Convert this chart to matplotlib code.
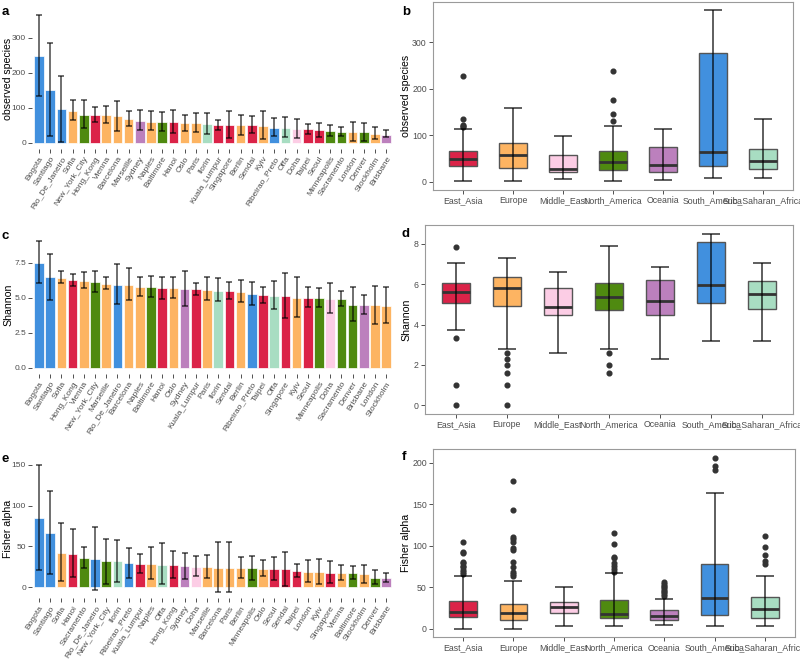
import matplotlib
matplotlib.use("Agg")
import matplotlib.pyplot as plt
import numpy as np

plt.rcParams['font.family'] = ['Liberation Sans', 'DejaVu Sans']

W, H = 800, 660

regions = ["East_Asia", "Europe", "Middle_East", "North_America",
           "Oceania", "South_America", "Sub_Saharan_Africa"]
region_colors = {
    "East_Asia": "#DB2348",
    "Europe": "#FDB462",
    "Middle_East": "#FCCDE5",
    "North_America": "#4F8A10",
    "Oceania": "#BC80BD",
    "South_America": "#4190DE",
    "Sub_Saharan_Africa": "#A8DDC2",
}
city_region = {
    "Bogota": "South_America", "Santiago": "South_America",
    "Rio_De_Janeiro": "South_America", "Ribeirao_Preto": "South_America",
    "Sofia": "Europe", "Vienna": "Europe", "Barcelona": "Europe",
    "Marseille": "Europe", "Naples": "Europe", "Oslo": "Europe",
    "Paris": "Europe", "Berlin": "Europe", "Kyiv": "Europe",
    "London": "Europe", "Stockholm": "Europe",
    "New_York_City": "North_America", "Baltimore": "North_America",
    "Minneapolis": "North_America", "Sacramento": "North_America",
    "Denver": "North_America",
    "Hong_Kong": "East_Asia", "Hanoi": "East_Asia", "Kuala_Lumpur": "East_Asia",
    "Singapore": "East_Asia", "Sendai": "East_Asia", "Taipei": "East_Asia",
    "Seoul": "East_Asia",
    "Sydney": "Oceania", "Brisbane": "Oceania",
    "Ilorin": "Sub_Saharan_Africa", "Offa": "Sub_Saharan_Africa",
    "Doha": "Middle_East",
}

# ---- panel a: observed species per city (mean, lower, upper)
obs_cities = ["Bogota", "Santiago", "Rio_De_Janeiro", "Sofia", "New_York_City",
              "Hong_Kong", "Vienna", "Barcelona", "Marseille", "Sydney", "Naples",
              "Baltimore", "Hanoi", "Oslo", "Paris", "Ilorin", "Kuala_Lumpur",
              "Singapore", "Berlin", "Sendai", "Kyiv", "Ribeirao_Preto", "Offa",
              "Doha", "Taipei", "Seoul", "Minneapolis", "Sacramento", "London",
              "Denver", "Stockholm", "Brisbane"]
obs_mean = [248, 150, 96, 91, 80, 79, 79, 75, 68, 62, 60, 60, 58, 55, 55, 53, 50,
            50, 49, 49, 47, 43, 43, 38, 38, 35, 32.5, 30.6, 29.6, 29.6, 25.7, 22.9]
obs_low = [133, 20, 3, 65, 41, 58, 55, 34, 48, 35, 36, 34, 27, 34, 30, 25, 35,
           12, 22, 27, 10, 20, 16, 12, 24, 17, 19, 19, 5, 5, 11, 15]
obs_high = [365, 284, 190, 122, 122, 103, 106, 120, 91, 92, 89, 88, 94, 80, 85, 86,
            66, 91, 80, 75, 89, 69, 73, 67, 54, 57, 50, 46, 58, 56, 45, 35]

# ---- panel c: Shannon per city
sha_cities = ["Bogota", "Santiago", "Sofia", "Hong_Kong", "Vienna", "New_York_City",
              "Marseille", "Rio_De_Janeiro", "Barcelona", "Naples", "Baltimore",
              "Hanoi", "Oslo", "Sydney", "Kuala_Lumpur", "Paris", "Ilorin", "Sendai",
              "Berlin", "Ribeirao_Preto", "Taipei", "Offa", "Singapore", "Kyiv",
              "Seoul", "Minneapolis", "Doha", "Sacramento", "Denver", "Brisbane",
              "London", "Stockholm"]
sha_mean = [7.5, 6.45, 6.43, 6.24, 6.17, 6.1, 5.98, 5.9, 5.88, 5.78, 5.74, 5.67,
            5.66, 5.6, 5.59, 5.57, 5.5, 5.45, 5.38, 5.24, 5.17, 5.12, 5.1, 5.0,
            5.0, 4.95, 4.93, 4.9, 4.5, 4.48, 4.45, 4.4]
sha_low = [6.07, 4.83, 6.02, 5.83, 5.67, 5.38, 5.6, 4.52, 4.83, 5.14, 5.02, 4.93,
           4.98, 4.4, 5.19, 4.81, 4.74, 4.88, 4.67, 4.45, 4.6, 4.17, 3.52, 3.6,
           4.31, 4.31, 3.93, 4.4, 3.33, 3.86, 3.14, 3.17]
sha_high = [9.05, 8.14, 6.93, 6.69, 6.83, 6.93, 6.5, 7.38, 7.1, 6.5, 6.57, 6.5,
            6.45, 6.93, 6.05, 6.48, 6.4, 6.14, 6.26, 6.1, 5.79, 6.19, 6.74, 6.5,
            5.79, 5.69, 6.07, 5.5, 5.74, 5.19, 5.83, 5.76]

# ---- panel e: Fisher alpha per city
fis_cities = ["Bogota", "Santiago", "Sofia", "Hanoi", "Sacramento", "Rio_De_Janeiro",
              "New_York_City", "Ilorin", "Ribeirao_Preto", "Kuala_Lumpur", "Naples",
              "Offa", "Hong_Kong", "Sydney", "Doha", "Marseille", "Barcelona", "Paris",
              "Berlin", "Minneapolis", "Oslo", "Seoul", "Sendai", "Taipei", "London",
              "Kyiv", "Singapore", "Vienna", "Baltimore", "Stockholm", "Denver",
              "Brisbane"]
fis_mean = [84.8, 66, 42, 41, 35.2, 34.4, 32, 31.6, 29.5, 28.7, 28.3, 27.5, 26.6,
            25.4, 24.6, 24.6, 23.8, 23.4, 23.4, 23, 22.5, 21.7, 21.7, 19.3, 18.9,
            18.4, 17.6, 16.8, 16.8, 15.6, 11.5, 10.7]
fis_low = [20.5, 16.4, 7.8, 12.3, 23.4, -3.7, 4.1, 6.1, 11.5, 17.5, 9.8, 3.3, 11,
           10.2, 13.1, 10.7, -6.1, -6.1, 11, 8.2, 13.1, 8.2, 1.6, 12.7, 5.7, 3.3,
           4.5, 8.6, 10.2, 4.5, 3.7, 5.7]
fis_high = [150, 118, 78.7, 71, 49, 73.4, 59.4, 57.4, 47.5, 40.6, 48.8, 54.5, 43.9,
            42.2, 37.7, 39.8, 55.7, 55.7, 37.3, 38.5, 33.2, 36.9, 43, 28.7, 33.2,
            34.4, 32.4, 27.5, 26.2, 26.6, 20.5, 16.8]

# ---- box panels: per-region summary (q1, median, q3, whisker low, whisker high, outliers)
obs_q1 = [33.6, 30, 21.5, 26, 21.5, 34, 26.5]
obs_med = [49, 57, 28, 41.5, 36, 63, 44]
obs_q3 = [67, 84, 57, 67, 74, 277, 71]
obs_wlo = [1, 1, 5, 2, 4.3, 8.6, 8.6]
obs_whi = [114, 158, 99, 121, 114, 369, 135]
obs_out = [[118, 120, 122, 134, 228], [], [], [130, 145, 176, 238], [], [], []]

sha_q1 = [5.08, 4.93, 4.49, 4.73, 4.47, 5.07, 4.8]
sha_med = [5.61, 5.83, 4.87, 5.36, 5.17, 5.96, 5.5]
sha_q3 = [6.06, 6.37, 5.83, 6.08, 6.19, 8.1, 6.16]
sha_wlo = [3.71, 2.81, 2.6, 2.81, 2.32, 3.18, 3.18]
sha_whi = [7.05, 7.3, 6.6, 7.88, 6.84, 8.51, 7.07]
sha_out = [[7.83, 3.33, 0.99, 0.0], [2.6, 2.32, 2.0, 1.59, 0.99, 0.0], [],
           [2.6, 2.0, 1.59], [], [], []]

fis_q1 = [14, 10.8, 18.4, 12.4, 10.4, 16, 13.2]
fis_med = [20.4, 19.2, 26.8, 17.6, 15.6, 36.8, 24]
fis_q3 = [34, 30.4, 32, 34.8, 22.4, 78, 38.8]
fis_wlo = [0, 0, 2.8, 2.8, 4.4, 2.8, 2.8]
fis_whi = [63, 58, 50.4, 67, 36, 164, 64]
fis_out = [[66, 69, 71, 74, 76, 79, 81, 91, 92, 104],
           [63, 66, 69, 75, 80, 95, 97, 105, 108, 111, 143, 177.6],
           [],
           [69, 72, 76, 79, 85, 87, 102, 115],
           [40, 42, 44, 46, 48, 50, 52, 54, 56.8],
           [190.8, 196.4, 206],
           [78, 82, 89, 98, 111.6]]

TICK_C = "#333333"
LAB_C = "#4D4D4D"


def px_axes(fig, x0, x1, y0, y1):
    ax = fig.add_axes([x0 / W, 1 - y1 / H, (x1 - x0) / W, (y1 - y0) / H])
    ax._px = (x0, x1)
    return ax


def place_ylabel(ax, ylabel, x_px):
    # x_px: centre of the rotated label, in figure pixels
    x0, x1 = ax._px
    ax.set_ylabel(ylabel, fontsize=7.6, va="center", ha="center")
    ax.yaxis.set_label_coords((x_px - x0) / (x1 - x0), 0.5)


def bar_panel(ax, cities, mean, low, high, ylabel, ylim, yticks, yticklabels):
    x = np.arange(len(cities))
    cols = [region_colors[city_region[c]] for c in cities]
    mean = np.array(mean)
    err = [mean - np.array(low), np.array(high) - mean]
    ax.bar(x, mean, width=0.86, color=cols, edgecolor="white", linewidth=0.5, zorder=2)
    ax.errorbar(x, mean, yerr=err, fmt="none", ecolor="black", alpha=0.72,
                elinewidth=1.1, capsize=2.3, capthick=1.1, zorder=3)
    ax.set_xlim(-0.6, len(cities) - 0.4)
    ax.set_ylim(*ylim)
    ax.set_yticks(yticks)
    ax.set_yticklabels(yticklabels)
    ax.set_xticks(x)
    ax.set_xticklabels(cities, rotation=58, ha="right", va="top",
                       rotation_mode="anchor", fontsize=6.1, color=LAB_C)
    for s in ax.spines.values():
        s.set_visible(False)
    ax.tick_params(axis="both", length=3, width=0.6, color=TICK_C,
                   labelsize=6.0, labelcolor=LAB_C, pad=1.5)
    place_ylabel(ax, ylabel, 8)


def box_panel(ax, q1, med, q3, wlo, whi, out, ylabel, ylim, yticks):
    stats = []
    for i, r in enumerate(regions):
        stats.append(dict(label=r, q1=q1[i], med=med[i], q3=q3[i],
                          whislo=wlo[i], whishi=whi[i], fliers=out[i]))
    pos = np.arange(1, len(regions) + 1)
    bp = ax.bxp(stats, positions=pos, widths=0.55, patch_artist=True,
                showcaps=False,
                boxprops=dict(edgecolor="#555555", linewidth=1.0),
                medianprops=dict(color="#333333", linewidth=2.0),
                whiskerprops=dict(linewidth=0),
                flierprops=dict(marker="o", markerfacecolor="#333333",
                                markeredgecolor="#333333", markersize=3.4))
    for patch, r in zip(bp["boxes"], regions):
        patch.set_facecolor(region_colors[r])
        patch.set_zorder(2)
    med_arr = np.array(med)
    ax.errorbar(pos, med_arr, yerr=[med_arr - np.array(wlo), np.array(whi) - med_arr],
                fmt="none", ecolor="black", alpha=0.8, elinewidth=1.1,
                capsize=6.5, capthick=1.1, zorder=3)
    ax.set_xlim(0.4, len(regions) + 0.6)
    ax.set_ylim(*ylim)
    ax.set_yticks(yticks)
    ax.set_xticks(pos)
    ax.set_xticklabels(regions, fontsize=5.7, color=LAB_C)
    for s in ax.spines.values():
        s.set_color("#9A9A9A")
        s.set_linewidth(0.8)
    ax.tick_params(axis="both", length=3, width=0.6, color=TICK_C,
                   labelsize=6.3, labelcolor=LAB_C, pad=1.5)
    place_ylabel(ax, ylabel, 406)


fig = plt.figure(figsize=(8, 6.6), dpi=100)

ax_a = px_axes(fig, 32.3, 393, 8.6, 149)
bar_panel(ax_a, obs_cities, obs_mean, obs_low, obs_high, "observed species",
          (-18.3, 383), [0, 100, 200, 300], ["0", "100", "200", "300"])
ax_c = px_axes(fig, 32.3, 393, 234.7, 374)
bar_panel(ax_c, sha_cities, sha_mean, sha_low, sha_high, "Shannon",
          (-0.45, 9.5), [0, 2.5, 5, 7.5], ["0.0", "2.5", "5.0", "7.5"])
ax_e = px_axes(fig, 32.3, 393, 458.5, 598.4)
bar_panel(ax_e, fis_cities, fis_mean, fis_low, fis_high, "Fisher alpha",
          (-13.9, 157.8), [0, 50, 100, 150], ["0", "50", "100", "150"])

ax_b = px_axes(fig, 433, 793, 1.7, 190)
box_panel(ax_b, obs_q1, obs_med, obs_q3, obs_wlo, obs_whi, obs_out,
          "observed species", (-17.7, 387.4), [0, 100, 200, 300])
ax_d = px_axes(fig, 425, 793, 225, 414)
box_panel(ax_d, sha_q1, sha_med, sha_q3, sha_wlo, sha_whi, sha_out,
          "Shannon", (-0.43, 8.94), [0, 2, 4, 6, 8])
ax_f = px_axes(fig, 433, 795, 449.3, 637.3)
box_panel(ax_f, fis_q1, fis_med, fis_q3, fis_wlo, fis_whi, fis_out,
          "Fisher alpha", (-10.3, 216.3), [0, 50, 100, 150, 200])

for letter, (lx, ly) in zip("abcdef", [(2, 12), (402, 12), (2, 236), (402, 234),
                                       (2, 459), (402, 457)]):
    fig.text(lx / W, 1 - ly / H, letter, fontsize=9.5, fontweight="bold",
             ha="left", va="center")

fig.savefig("out.png", dpi=100)
